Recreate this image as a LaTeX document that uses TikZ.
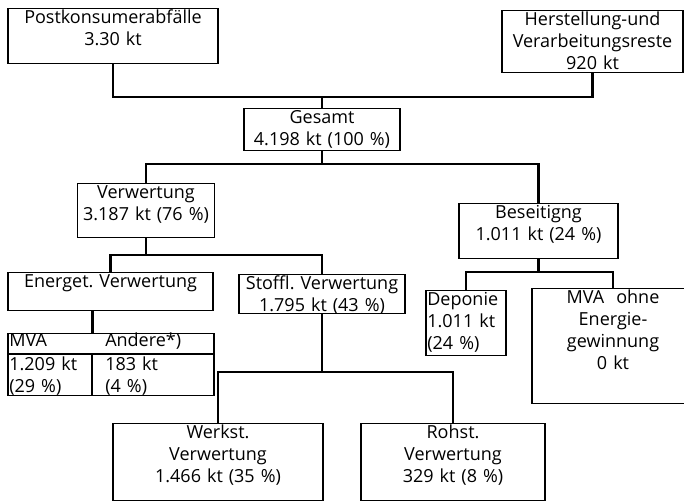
\documentclass[tikz,border=0pt]{standalone}
\usepackage{fontspec}
\setmainfont{Open Sans}
\frenchspacing
\begin{document}
\begin{tikzpicture}
	[x=0.75pt,y=-0.75pt,
	box/.style={draw,line width=0.8pt,anchor=north,align=center,inner xsep=1pt,inner ysep=0pt,text height=11.5pt,font=\fontsize{13.5pt}{16.5pt}\selectfont},
	cell/.style={box,align=left,line width=1.1pt},
	celltext/.style={anchor=base west,inner sep=0pt,font=\fontsize{13.5pt}{16.5pt}\selectfont},
	line/.style={line width=2pt}]

	\useasboundingbox (0,0) rectangle (684,501);

	\node[box,text width=155.5pt,text depth=29.75pt] (post) at (113,8) {Postkonsumerabfälle\\3.30 kt};
	\node[box,text width=133.75pt,text depth=35pt] (herst) at (592.5,10) {Herstellung-und\\Verarbeitungsreste\\920 kt};
	\node[box,text width=115pt,text depth=20pt] (gesamt) at (322,108) {Gesamt\\4.198 kt (100 \%)};
	\node[box,text width=100.75pt,text depth=29pt] (verw) at (146,183) {Verwertung\\3.187 kt (76 \%)};
	\node[box,text width=117.25pt,text depth=29.75pt] (beseit) at (538.5,203) {Beseitigng\\1.011 kt (24 \%)};
	\node[box,text width=151.75pt,text depth=17pt] (energet) at (110.5,272) {Energet. Verwertung};
	\node[box,text width=122.5pt,text depth=17.75pt] (stoffl) at (322,274) {Stoffl. Verwertung\\1.795 kt (43 \%)};
	\node[box,align=left,text width=58pt,text depth=37.25pt] (deponie) at (466,290) {Deponie\\1.011 kt\\(24 \%)};
	\node[box,text width=119.5pt,text depth=74.75pt] (mvaohne) at (613,288) {MVA\ \ ohne\\Energie-\\gewinnung\\0 kt};
	\node[box,text width=155.5pt,text depth=46.25pt] (werkst) at (218,423) {Werkst.\\Verwertung\\1.466 kt (35 \%)};
	\node[box,text width=136pt,text depth=46.25pt] (rohst) at (453,423) {Rohst.\\Verwertung\\329 kt (8 \%)};

	\node[cell,text width=152.5pt,text depth=3.5pt] (mvahead) at (111,333) {};
	\node[celltext] (mvatext) at (9,346) {MVA};
	\node[celltext] (anderetext) at (105,346) {Andere*)};
	\node[cell,text width=61pt,text depth=19.25pt] (mvaleft) at (50,354) {1.209 kt\\(29 \%)};
	\node[cell,minimum width=91.5pt,text width=71.5pt,text depth=19.25pt] (mvaright) at (153,354) {183 kt\\(4 \%)};

	\coordinate (j1) at (322,97);
	\coordinate (j2) at (322,164);
	\coordinate (j3) at (146,255);
	\coordinate (j4) at (322,372);
	\coordinate (j5) at (538.5,272);

	\draw[line] (post.south) |- (j1) -| (herst.south);
	\draw[line] (j1) -- (gesamt.north);
	\draw[line] (gesamt.south) -- (j2);
	\draw[line] (verw.north) |- (j2) -| (beseit.north);
	\draw[line] (verw.south) -- (j3);
	\draw[line] (energet.north) |- (j3) -| (stoffl.north);
	\draw[line] (stoffl.south) -- (j4);
	\draw[line] (werkst.north) |- (j4) -| (rohst.north);
	\draw[line] (beseit.south) -- (j5);
	\draw[line] (deponie.north) |- (j5) -| (mvaohne.north);
	\draw[line] (energet.south -| mvaleft.east) -- (mvahead.north -| mvaleft.east);
\end{tikzpicture}
\end{document}
